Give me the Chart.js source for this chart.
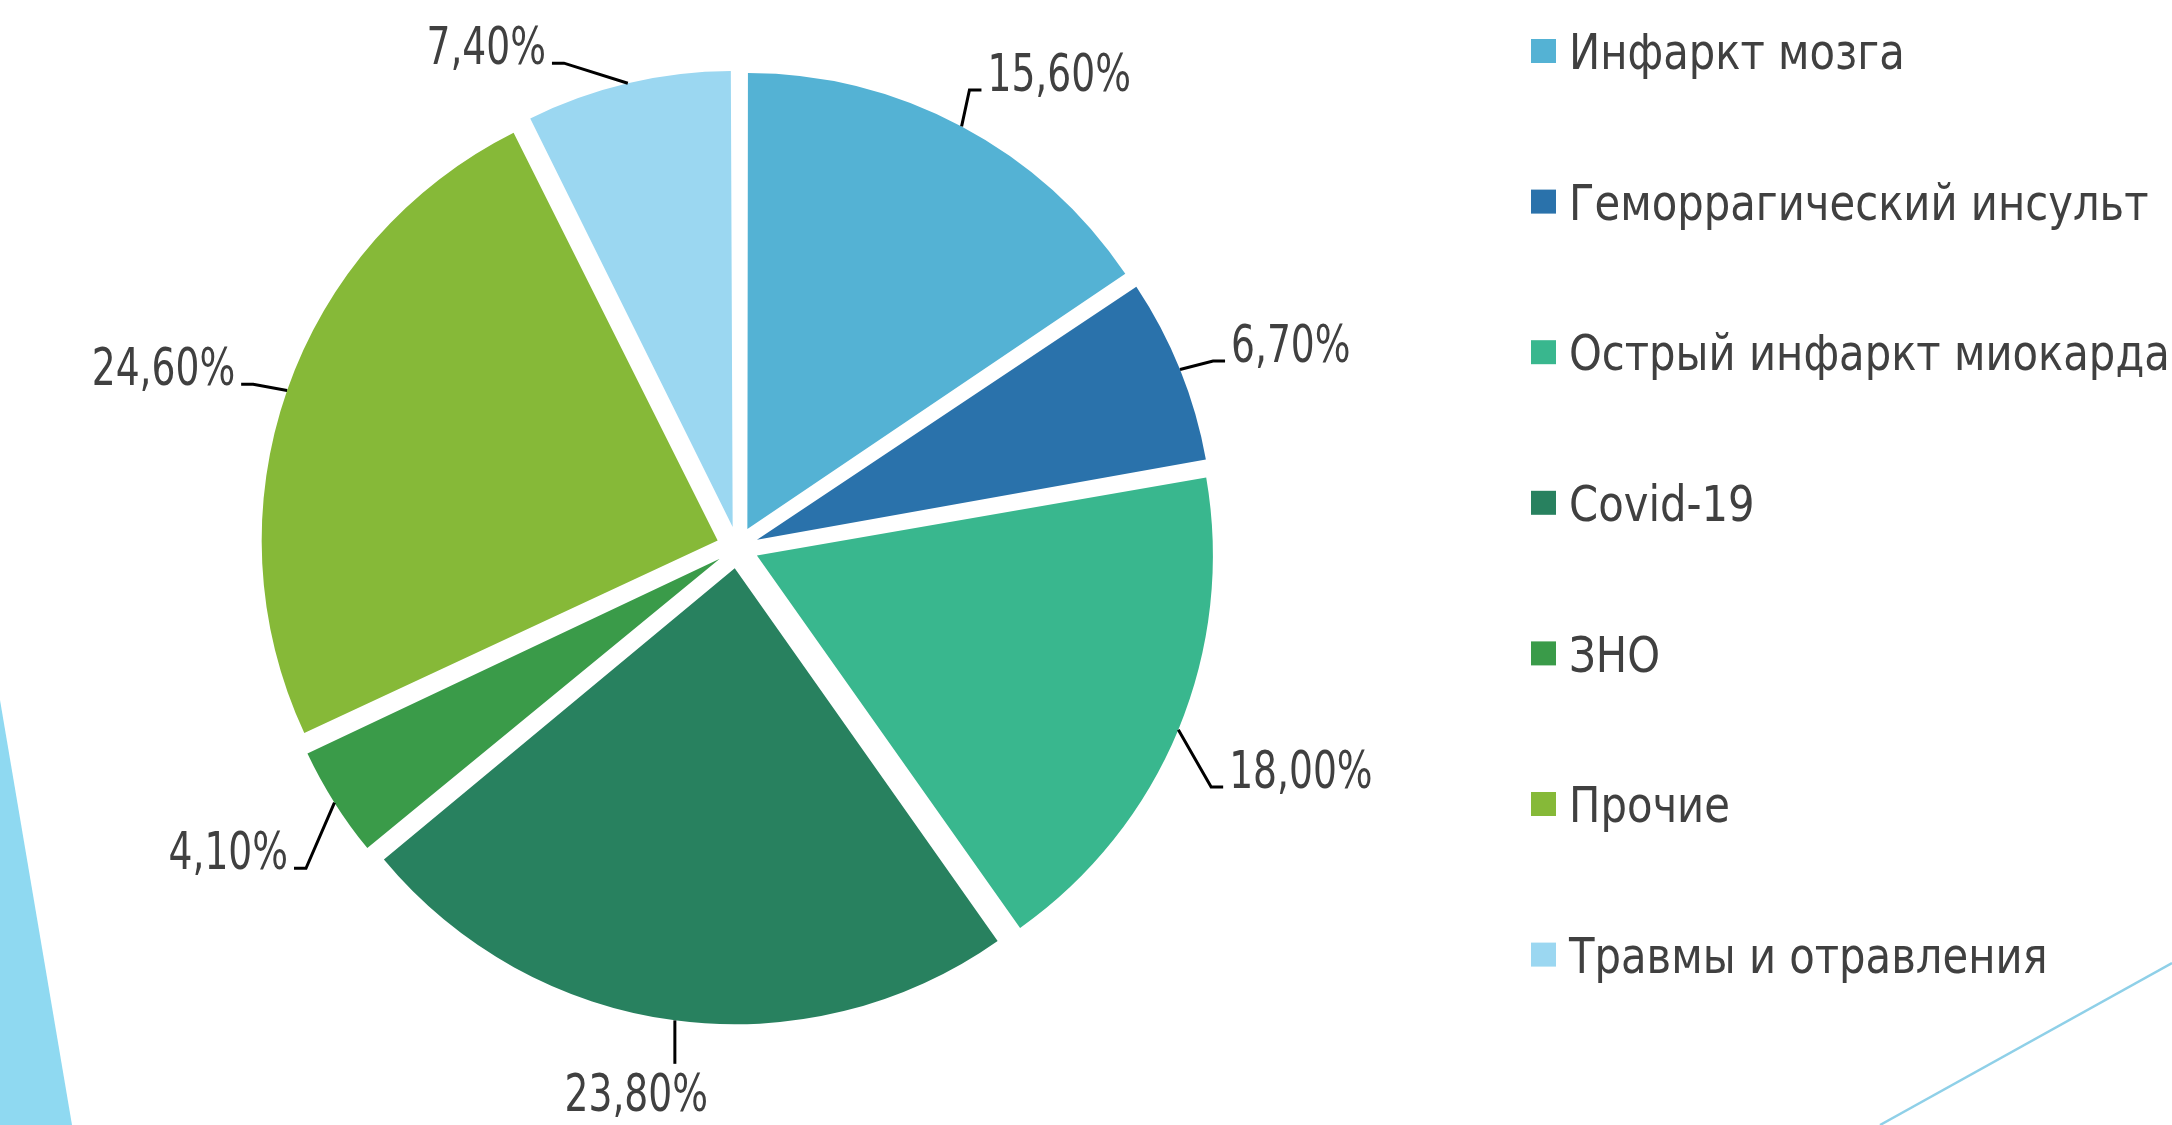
<!DOCTYPE html>
<html>
<head>
<meta charset="utf-8">
<script src="https://cdn.jsdelivr.net/npm/chart.js@4.4.1/dist/chart.umd.min.js"></script>
<style>
  html, body { margin: 0; padding: 0; background: #fff; }
  canvas { display: block; }
</style>
</head>
<body>
<canvas id="grafico" width="2172" height="1125"></canvas>
<script>
const categorias = [
  "Инфаркт мозга",
  "Геморрагический инсульт",
  "Острый инфаркт миокарда",
  "Covid-19",
  "ЗНО",
  "Прочие",
  "Травмы и отравления",
];
const valores = [15.6, 6.7, 18.0, 23.8, 4.1, 24.6, 7.4];
const cores = ["#54b2d4", "#2a72ab", "#39b78e", "#28815f", "#3a9b49", "#86b938", "#9bd7f1"];

const DESLOC = 21; // quanto cada fatia sai do centro (px)
const corTexto = "#404040";

function formatar(v) {
  return v.toFixed(2).replace(".", ",") + "%";
}

// texto "estreitado" na horizontal
function textoEstreito(ctx, txt, x, y, esc) {
  ctx.save();
  ctx.translate(x, y);
  ctx.scale(esc, 1);
  ctx.fillText(txt, 0, 0);
  ctx.restore();
}

const clamp = (v, a, b) => Math.max(a, Math.min(b, v));

// fundo: faixa azul à esquerda e linha fina embaixo à direita
const fundo = {
  id: "fundo",
  beforeDraw(chart) {
    const { ctx, width, height } = chart;
    ctx.save();
    ctx.fillStyle = "#fff";
    ctx.fillRect(0, 0, width, height);
    ctx.fillStyle = "#8fd9f1";
    ctx.beginPath();
    ctx.moveTo(0, 700);
    ctx.lineTo(72, height);
    ctx.lineTo(0, height);
    ctx.closePath();
    ctx.fill();
    ctx.strokeStyle = "#8fd0e8";
    ctx.lineWidth = 2.5;
    ctx.beginPath();
    ctx.moveTo(1880, height);
    ctx.lineTo(width, 963);
    ctx.stroke();
    ctx.restore();
  },
};

// o offset do Chart.js aumenta o raio das fatias pequenas; compensa aqui
const ajusteRaio = {
  id: "ajusteRaio",
  beforeDatasetsDraw(chart) {
    const meta = chart.getDatasetMeta(0);
    const r0 = meta.controller.outerRadius;
    meta.data.forEach((arc) => {
      const fix = 1 - Math.sin(Math.min(Math.PI, arc.circumference));
      arc.outerRadius = r0 - DESLOC * fix;
    });
  },
};

// rótulos de porcentagem com linha guia
const rotulos = {
  id: "rotulos",
  afterDatasetsDraw(chart) {
    const { ctx, height } = chart;
    const meta = chart.getDatasetMeta(0);
    const r0 = meta.controller.outerRadius;
    const tam = 51;
    const esc = 0.82;
    const capH = tam * 0.729;
    const dist = r0 + 76;
    const margem = 14;
    ctx.save();
    ctx.font = tam + "px 'DejaVu Sans Condensed', 'DejaVu Sans', sans-serif";
    ctx.textAlign = "center";
    ctx.textBaseline = "alphabetic";
    meta.data.forEach((arc, i) => {
      const meio = (arc.startAngle + arc.endAngle) / 2;
      const ax = arc.x + Math.cos(meio) * (r0 + DESLOC);
      const ay = arc.y + Math.sin(meio) * (r0 + DESLOC);
      const texto = formatar(valores[i]);
      const w = ctx.measureText(texto).width * esc;

      // se o rótulo sai pelo topo, gira a âncora para o lado
      let ang = meio;
      const topoMin = margem + capH;
      if (arc.y + Math.sin(ang) * dist < topoMin) {
        const c = (arc.y - topoMin) / dist;
        const giro = Math.acos(clamp(c, -1, 1));
        ang = Math.cos(meio) < 0 ? -Math.PI / 2 - giro : -Math.PI / 2 + giro;
      }
      const dx = Math.cos(ang);
      const dy = Math.sin(ang);
      const px = arc.x + dx * dist;
      const py = arc.y + dy * dist;
      const cx = px + (w / 2) * clamp(dx / 0.3, -1, 1);
      let cy = py + (capH / 2) * clamp(dy / 0.3, -1, 1);
      // rótulos de cima ficam um pouco mais baixos
      cy += 13 * clamp(-dy / 0.3, 0, 1);
      cy = clamp(cy, margem + capH / 2, height - margem - capH / 2);

      ctx.fillStyle = corTexto;
      textoEstreito(ctx, texto, cx, cy + capH / 2, esc);

      ctx.strokeStyle = "#000";
      ctx.lineWidth = 3;
      ctx.beginPath();
      ctx.moveTo(ax, ay);
      if (Math.abs(dx) < 0.25) {
        const ty = dy > 0 ? cy - capH / 2 - 10 : cy + capH / 2 + 8;
        ctx.lineTo(ax, ty);
      } else {
        const lado = Math.sign(dx);
        const borda = cx - lado * w / 2;
        const ly = cy + capH / 2 - 1;
        ctx.lineTo(borda - lado * 18, ly);
        ctx.lineTo(borda - lado * 6, ly);
      }
      ctx.stroke();
    });
    ctx.restore();
  },
};

// legenda desenhada à mão (espaçamento grande entre itens)
const legenda = {
  id: "legenda",
  afterDraw(chart) {
    const { ctx } = chart;
    const tam = 50;
    ctx.save();
    ctx.font = tam + "px 'DejaVu Sans Condensed', 'DejaVu Sans', sans-serif";
    ctx.textBaseline = "alphabetic";
    ctx.textAlign = "left";
    categorias.forEach((nome, i) => {
      const y = 51 + i * 150.6;
      ctx.fillStyle = cores[i];
      ctx.fillRect(1531, y - 12, 25, 24);
      ctx.fillStyle = corTexto;
      textoEstreito(ctx, nome, 1569, y + tam * 0.729 / 2, 0.928);
    });
    ctx.restore();
  },
};

const ctx = document.getElementById("grafico");

new Chart(ctx, {
  type: "pie",
  data: {
    labels: categorias,
    datasets: [
      {
        data: valores,
        backgroundColor: cores,
        borderWidth: 0,
        hoverBorderWidth: 0,
        offset: DESLOC * 4,
        hoverOffset: 0,
      },
    ],
  },
  options: {
    responsive: false,
    animation: false,
    events: [],
    layout: {
      padding: { top: 49.5, bottom: 79.5, left: 0, right: 697 },
    },
    plugins: {
      legend: { display: false },
      tooltip: { enabled: false },
    },
  },
  plugins: [fundo, ajusteRaio, rotulos, legenda],
});
</script>
</body>
</html>
